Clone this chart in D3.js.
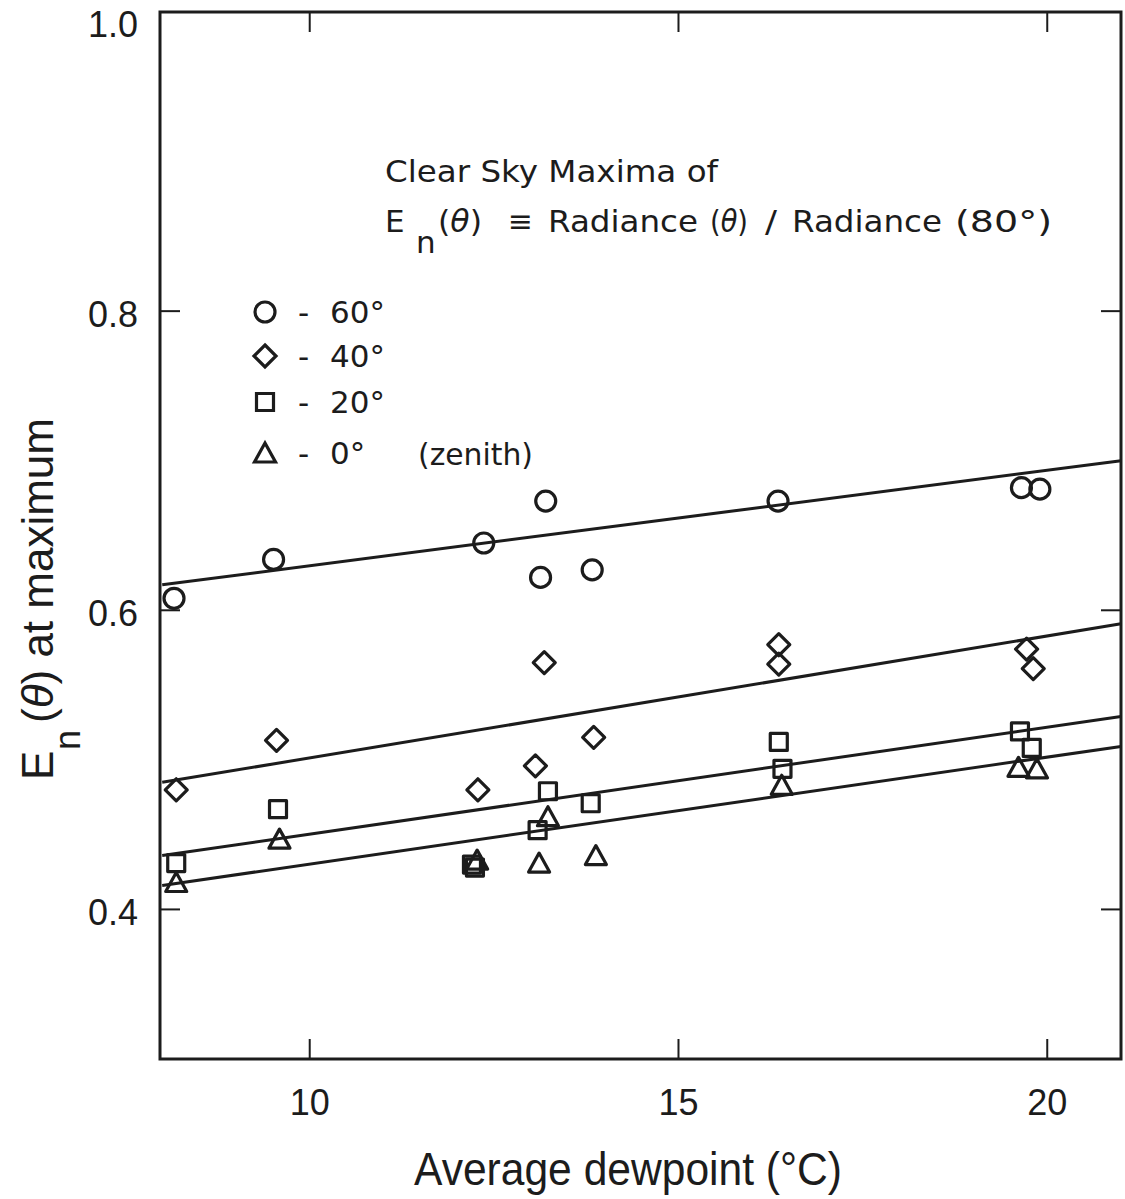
<!DOCTYPE html>
<html>
<head>
<meta charset="utf-8">
<script src="https://cdn.jsdelivr.net/npm/d3@7"></script>
<style>
  body { margin: 0; background: #fff; }
  svg { display: block; }
  text { font-family: "Liberation Sans", Arial, sans-serif; fill: #1c1c1c; }
  .wide { font-family: "DejaVu Sans", sans-serif; }
</style>
</head>
<body>
<svg id="chart" width="1125" height="1199"></svg>
<script>
// Average dewpoint (°C) and clear-sky maxima of En(θ) for each view angle
const dew60 = [8.16, 9.51, 12.36, 13.20, 13.13, 13.83, 16.35, 19.65, 19.90];
const en60  = [0.608, 0.634, 0.645, 0.673, 0.622, 0.627, 0.673, 0.682, 0.681];

const dew40 = [8.19, 9.55, 12.28, 13.18, 13.06, 13.85, 16.36, 16.36, 19.72, 19.81];
const en40  = [0.480, 0.513, 0.480, 0.565, 0.496, 0.515, 0.577, 0.564, 0.574, 0.561];

const dew20 = [8.19, 9.57, 12.20, 12.24, 13.23, 13.09, 13.81, 16.36, 16.41, 19.63, 19.79];
const en20  = [0.431, 0.467, 0.430, 0.428, 0.479, 0.453, 0.471, 0.512, 0.494, 0.519, 0.508];

const dew0  = [8.19, 9.59, 12.27, 13.23, 13.11, 13.88, 16.40, 19.61, 19.86];
const en0   = [0.418, 0.447, 0.433, 0.462, 0.431, 0.436, 0.483, 0.495, 0.494];

// Least-squares fit lines, evaluated at the ends of the dewpoint range
const fitDew = [8, 21];
const fit60 = [0.617, 0.700];
const fit40 = [0.485, 0.591];
const fit20 = [0.436, 0.529];
const fit0  = [0.416, 0.509];

// Axis ticks and legend entries
const xTicks = [10, 15, 20];
const yTicks = [0.4, 0.6, 0.8, 1.0];
const angleLabels = ["60°", "40°", "20°", "0°"];
const symbolKinds = ["circle", "diamond", "square", "triangle"];

const series = [
  { dew: dew60, en: en60, fit: fit60, kind: "circle" },
  { dew: dew40, en: en40, fit: fit40, kind: "diamond" },
  { dew: dew20, en: en20, fit: fit20, kind: "square" },
  { dew: dew0,  en: en0,  fit: fit0,  kind: "triangle" }
];

const ink = "#1c1c1c";
const svg = d3.select("#chart");
const plotLeft = 160, plotRight = 1121, plotTop = 12, plotBottom = 1059;

const x = d3.scaleLinear().domain([7.97, 21]).range([plotLeft, plotRight]);
const y = d3.scaleLinear().domain([0.3, 1.0]).range([plotBottom, plotTop]);

// Marker shapes
function markerPath(kind) {
  const p = d3.path();
  if (kind === "circle") {
    p.arc(0, 0, 10, 0, 2 * Math.PI);
  } else if (kind === "diamond") {
    p.moveTo(0, -11); p.lineTo(11, 0); p.lineTo(0, 11); p.lineTo(-11, 0); p.closePath();
  } else if (kind === "square") {
    p.rect(-8.5, -8.5, 17, 17);
  } else {
    p.moveTo(0, -10); p.lineTo(10.5, 9); p.lineTo(-10.5, 9); p.closePath();
  }
  return p.toString();
}

// Frame
svg.append("rect")
  .attr("x", plotLeft).attr("y", plotTop)
  .attr("width", plotRight - plotLeft).attr("height", plotBottom - plotTop)
  .attr("fill", "none").attr("stroke", ink).attr("stroke-width", 3);

// Inward ticks on all four sides
const tickLen = 20;
const ticks = svg.append("g").attr("stroke", ink).attr("stroke-width", 2);
xTicks.forEach(t => {
  ticks.append("line").attr("x1", x(t)).attr("x2", x(t)).attr("y1", plotBottom).attr("y2", plotBottom - tickLen);
  ticks.append("line").attr("x1", x(t)).attr("x2", x(t)).attr("y1", plotTop).attr("y2", plotTop + tickLen);
});
yTicks.forEach(t => {
  ticks.append("line").attr("x1", plotLeft).attr("x2", plotLeft + tickLen).attr("y1", y(t)).attr("y2", y(t));
  ticks.append("line").attr("x1", plotRight).attr("x2", plotRight - tickLen).attr("y1", y(t)).attr("y2", y(t));
});

// Tick labels
svg.append("g").selectAll("text").data(xTicks).join("text")
  .attr("x", d => x(d)).attr("y", 1115)
  .attr("text-anchor", "middle").attr("font-size", 36)
  .text(d => String(d));

svg.append("g").selectAll("text").data(yTicks).join("text")
  .attr("x", 138).attr("y", d => Math.max(y(d) + 16, 37))
  .attr("text-anchor", "end").attr("font-size", 36)
  .text(d => d.toFixed(1));

// Fit lines
const line = d3.line().x(d => x(d[0])).y(d => y(d[1]));
svg.append("g").selectAll("path").data(series).join("path")
  .attr("d", s => line(fitDew.map((dv, i) => [dv, s.fit[i]])))
  .attr("fill", "none").attr("stroke", ink).attr("stroke-width", 3);

// Data markers
series.forEach(s => {
  svg.append("g").selectAll("path").data(s.dew.map((dv, i) => [dv, s.en[i]])).join("path")
    .attr("transform", d => `translate(${x(d[0])},${y(d[1])})`)
    .attr("d", markerPath(s.kind))
    .attr("fill", "none").attr("stroke", ink).attr("stroke-width", 3.2)
    .attr("stroke-linejoin", "round");
});

// Legend
const legendY = [312, 356, 402, 453];
const legend = svg.append("g").attr("font-size", 31);
angleLabels.forEach((lab, i) => {
  legend.append("path")
    .attr("transform", `translate(265,${legendY[i]})`)
    .attr("d", markerPath(symbolKinds[i]))
    .attr("fill", "none").attr("stroke", ink).attr("stroke-width", 3.2);
  legend.append("text").attr("class", "wide").attr("x", 298).attr("y", legendY[i] + 10.5).text("-");
  legend.append("text").attr("class", "wide").attr("x", 330).attr("y", legendY[i] + 10.5).text(lab);
});
legend.append("text").attr("class", "wide").attr("x", 418).attr("y", legendY[3] + 11.5)
  .attr("textLength", 115).attr("lengthAdjust", "spacingAndGlyphs").text("(zenith)");

// Title block
const title = svg.append("g").attr("font-size", 31);
title.append("text").attr("class", "wide").attr("x", 385).attr("y", 182)
  .attr("textLength", 333).attr("lengthAdjust", "spacingAndGlyphs")
  .text("Clear Sky Maxima of");
title.append("text").attr("class", "wide").attr("x", 385).attr("y", 232).text("E");
title.append("text").attr("class", "wide").attr("x", 416).attr("y", 253).text("n");

// Second title line, set piece by piece: [text, left x, width, italic theta]
const eqPieces = [
  ["(θ)", 438, 44, true], ["≡", 508, 25, false], ["Radiance", 548, 150, false],
  ["(θ)", 710, 38, true], ["/", 765, 12, false], ["Radiance", 792, 150, false],
  ["(80°)", 955, 97, false]
];
eqPieces.forEach(([txt, px, w, th]) => {
  const t = title.append("text").attr("class", "wide").attr("x", px).attr("y", 232)
    .attr("textLength", w).attr("lengthAdjust", "spacingAndGlyphs");
  if (th) {
    t.append("tspan").text("(");
    t.append("tspan").attr("font-style", "italic").text("θ");
    t.append("tspan").text(")");
  } else {
    t.text(txt);
  }
});

// Axis titles
svg.append("text")
  .attr("x", 628).attr("y", 1185)
  .attr("text-anchor", "middle").attr("font-size", 46)
  .attr("textLength", 428).attr("lengthAdjust", "spacingAndGlyphs")
  .text("Average dewpoint (°C)");

const yTitle = svg.append("g").attr("transform", "translate(53,780) rotate(-90)");
yTitle.append("text").attr("x", 0).attr("y", 0).attr("font-size", 44).text("E");
yTitle.append("text").attr("x", 30).attr("y", 27).attr("font-size", 36).text("n");
const yt = yTitle.append("text").attr("x", 57).attr("y", 0).attr("font-size", 44)
  .attr("textLength", 305).attr("lengthAdjust", "spacing");
yt.append("tspan").text("(");
yt.append("tspan").attr("font-style", "italic").text("θ");
yt.append("tspan").text(") at maximum");
</script>
</body>
</html>
